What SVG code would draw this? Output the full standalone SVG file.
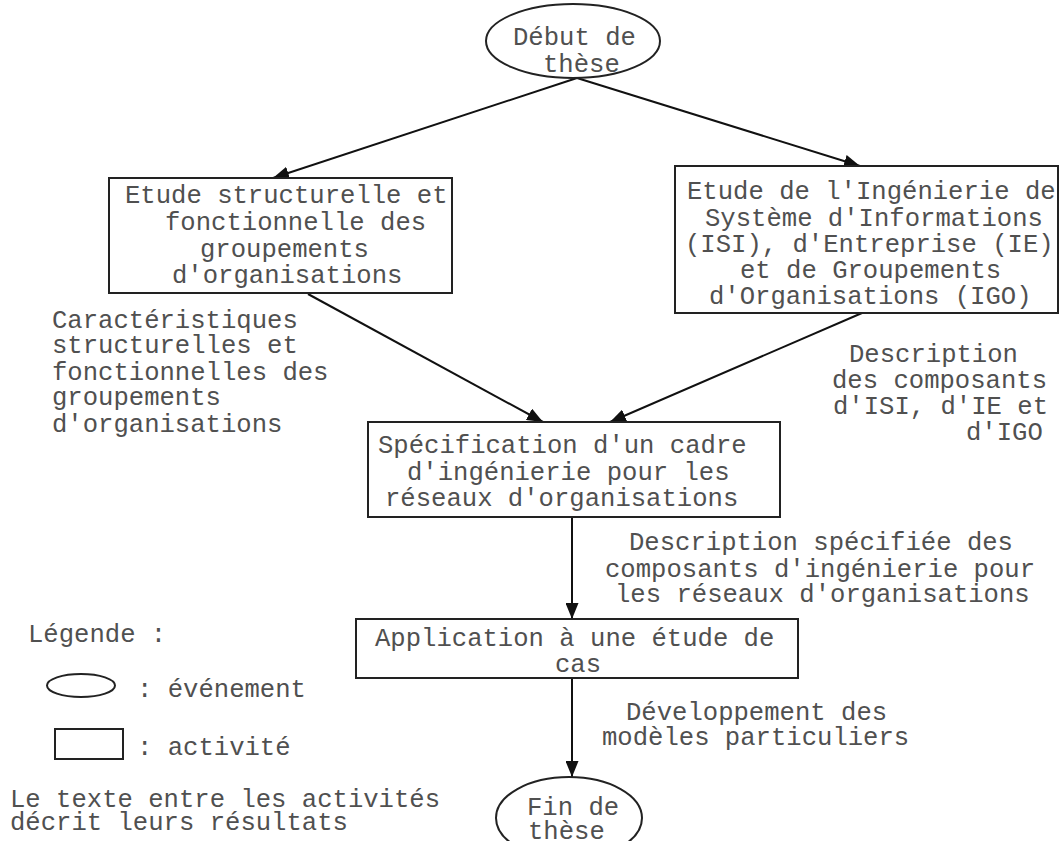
<svg xmlns="http://www.w3.org/2000/svg" width="1060" height="841" viewBox="0 0 1060 841">
<style>
text { font-family: "Liberation Mono", "Courier New", monospace; font-size: 25.6px; fill: #505050; }
.shape { fill: #fff; stroke: #222; stroke-width: 2; }
.conn { stroke: #111; stroke-width: 2; fill: none; marker-end: url(#arr); }
</style>
<defs>
<marker id="arr" markerUnits="userSpaceOnUse" markerWidth="17" markerHeight="13" refX="16" refY="6.5" orient="auto">
<path d="M0,0 L16,6.5 L0,13 z" fill="#111"/>
</marker>
</defs>
<rect width="1060" height="841" fill="#fff"/>
<g id="connectors">
<line class="conn" x1="577" y1="78" x2="273" y2="178"/>
<line class="conn" x1="577" y1="78" x2="860" y2="166"/>
<line class="conn" x1="308" y1="294" x2="543" y2="422"/>
<line class="conn" x1="862" y1="313" x2="610" y2="422"/>
<line class="conn" x1="572" y1="517" x2="572" y2="619"/>
<line class="conn" x1="572" y1="678" x2="572" y2="777"/>
</g>
<g id="debut">
<ellipse class="shape" cx="573" cy="41" rx="87" ry="37"/>
<text x="513" y="45">Début de</text>
<text x="543" y="72">thèse</text>
</g>
<g id="etude-structurelle">
<rect class="shape" x="109" y="178" width="343" height="115"/>
<text x="125" y="203">Etude structurelle et</text>
<text x="165" y="230">fonctionnelle des</text>
<text x="200" y="257">groupements</text>
<text x="172" y="283">d'organisations</text>
</g>
<g id="etude-ingenierie">
<rect class="shape" x="675" y="166" width="383" height="147"/>
<text x="687" y="199">Etude de l'Ingénierie de</text>
<text x="705" y="226">Système d'Informations</text>
<text x="685" y="252">(ISI), d'Entreprise (IE)</text>
<text x="740" y="278">et de Groupements</text>
<text x="709" y="304">d'Organisations (IGO)</text>
</g>
<g id="specification">
<rect class="shape" x="368" y="422" width="412" height="95"/>
<text x="378" y="453">Spécification d'un cadre</text>
<text x="407" y="480">d'ingénierie pour les</text>
<text x="385" y="506">réseaux d'organisations</text>
</g>
<g id="application">
<rect class="shape" x="356" y="619" width="442" height="59"/>
<text x="375" y="646">Application à une étude de</text>
<text x="555" y="672">cas</text>
</g>
<g id="fin">
<ellipse class="shape" cx="569" cy="818" rx="73" ry="41"/>
<text x="527" y="815">Fin de</text>
<text x="528" y="839">thèse</text>
</g>
<g id="labels">
<text x="52" y="328">Caractéristiques</text>
<text x="52" y="353">structurelles et</text>
<text x="52" y="380">fonctionnelles des</text>
<text x="52" y="405">groupements</text>
<text x="52" y="432">d'organisations</text>
<text x="849" y="362">Description</text>
<text x="832" y="388">des composants</text>
<text x="833" y="414">d'ISI, d'IE et</text>
<text x="966" y="440">d'IGO</text>
<text x="629" y="550">Description spécifiée des</text>
<text x="605" y="577">composants d'ingénierie pour</text>
<text x="615" y="602">les réseaux d'organisations</text>
<text x="626" y="720">Développement des</text>
<text x="602" y="745">modèles particuliers</text>
</g>
<g id="legend">
<text x="28" y="642">Légende :</text>
<ellipse class="shape" cx="81" cy="685.5" rx="34" ry="11.5"/>
<text x="137" y="697">: événement</text>
<rect class="shape" x="55" y="729" width="68" height="30"/>
<text x="137" y="755">: activité</text>
<text x="10" y="807">Le texte entre les activités</text>
<text x="10" y="830">décrit leurs résultats</text>
</g>
</svg>
